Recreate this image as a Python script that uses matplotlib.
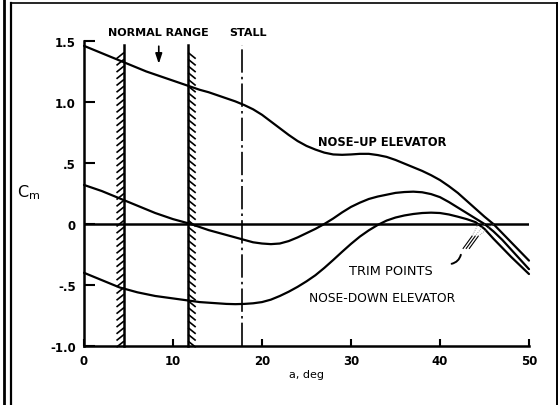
import numpy as np
import matplotlib
matplotlib.use("Agg")
import matplotlib.pyplot as plt
from matplotlib.collections import LineCollection
from matplotlib.lines import Line2D

# ---------------- data ----------------
alpha = list(range(0, 51))
cm_nose_up = [1.46, 1.43, 1.40, 1.37, 1.34, 1.31, 1.28, 1.25, 1.225, 1.20,
              1.175, 1.15, 1.125, 1.10, 1.08, 1.055, 1.03, 1.005, 0.975, 0.94,
              0.895, 0.84, 0.785, 0.73, 0.68, 0.64, 0.61, 0.585, 0.57, 0.567,
              0.57, 0.575, 0.575, 0.565, 0.55, 0.525, 0.495, 0.465, 0.435, 0.40,
              0.36, 0.31, 0.255, 0.19, 0.125, 0.06, 0.00, -0.075, -0.15, -0.225,
              -0.30]
cm_neutral = [0.32, 0.295, 0.27, 0.24, 0.21, 0.18, 0.15, 0.12, 0.09, 0.065,
              0.04, 0.02, 0.00, -0.025, -0.05, -0.07, -0.09, -0.11, -0.13, -0.15,
              -0.16, -0.165, -0.16, -0.14, -0.11, -0.075, -0.04, 0.00, 0.045, 0.095,
              0.14, 0.175, 0.205, 0.225, 0.24, 0.255, 0.262, 0.265, 0.26, 0.245,
              0.22, 0.18, 0.135, 0.09, 0.045, 0.00, -0.06, -0.13, -0.21, -0.29,
              -0.37]
cm_nose_down = [-0.40, -0.43, -0.46, -0.49, -0.52, -0.54, -0.56, -0.575, -0.59, -0.60,
                -0.61, -0.62, -0.63, -0.64, -0.645, -0.65, -0.655, -0.657, -0.655, -0.65,
                -0.64, -0.62, -0.59, -0.555, -0.515, -0.47, -0.42, -0.36, -0.295, -0.228,
                -0.163, -0.103, -0.052, -0.008, 0.028, 0.053, 0.07, 0.082, 0.09, 0.093,
                0.09, 0.078, 0.06, 0.04, 0.015, -0.04, -0.12, -0.195, -0.27, -0.34,
                -0.41]

normal_range = [4.5, 11.7]
stall_alpha = 17.7
trim_alpha = [44.3, 45.0, 46.0]

x_ticks = [0, 10, 20, 30, 40, 50]
x_labels = ["0", "10", "20", "30", "40", "50"]
y_ticks = [1.5, 1.0, 0.5, 0.0, -0.5, -1.0]
y_labels = ["1.5", "1.0", ".5", "0", "-.5", "-1.0"]

# ---------------- figure ----------------
fig = plt.figure(figsize=(5.59, 4.06), dpi=100)
fig.patch.set_facecolor("white")
ax = fig.add_axes([0.1503, 0.1453, 0.7960, 0.7513])
ax.set_xlim(0, 50)
ax.set_ylim(-1.0, 1.5)
for s in ("top", "right"):
    ax.spines[s].set_visible(False)
for s in ("left", "bottom"):
    ax.spines[s].set_linewidth(1.8)
    ax.spines[s].set_color("black")

font = dict(family="DejaVu Sans", fontweight="bold")

ax.set_xticks(x_ticks)
ax.set_xticklabels(x_labels, **font)
ax.set_yticks(y_ticks)
ax.set_yticklabels(y_labels, **font)
ax.tick_params(axis="both", direction="in", width=1.5, labelsize=8.5, color="black")
ax.tick_params(axis="y", length=8, pad=6)
ax.tick_params(axis="x", length=5, pad=6)

lw = 1.6
for series in (cm_nose_up, cm_neutral, cm_nose_down):
    ax.plot(alpha, series, color="black", lw=lw, solid_joinstyle="round",
            solid_capstyle="round", clip_on=False)
ax.axhline(0, color="black", lw=1.8)

# hatched walls of the normal range
top_wall = 1.47
for xw, side in zip(normal_range, (-1, 1)):
    ax.plot([xw, xw], [-1.0, top_wall], color="black", lw=1.8, clip_on=False)
    ys = np.arange(-0.96, top_wall - 0.01, 0.055)
    segs = [[(xw, y), (xw + side * 0.85, y - 0.05)] for y in ys]
    ax.add_collection(LineCollection(segs, colors="black", linewidths=1.2, clip_on=False))

# stall line
ax.plot([stall_alpha, stall_alpha], [-1.0, 1.47], color="black", lw=1.2,
        dashes=(14, 2.5, 1.5, 2.5), clip_on=False)

# labels
ax.text(8.4, 1.575, "NORMAL RANGE", ha="center", va="center", fontsize=8, **font)
ax.text(18.4, 1.575, "STALL", ha="center", va="center", fontsize=8, **font)
ax.annotate("", xy=(8.4, 1.29), xytext=(8.4, 1.48),
            arrowprops=dict(arrowstyle="-|>,head_length=0.6,head_width=0.2", color="black", lw=1.2))

ax.text(26.3, 0.68, "NOSE\u2013UP ELEVATOR", ha="left", va="center", fontsize=8.3, **font)
ax.text(25.3, -0.60, "NOSE-DOWN ELEVATOR", ha="left", va="center", fontsize=8.8,
        family="DejaVu Sans")
ax.text(29.8, -0.38, "TRIM POINTS", ha="left", va="center", fontsize=9.3,
        family="DejaVu Sans")

# trim point leaders
ax.annotate("", xy=(42.4, -0.23), xytext=(41.0, -0.33),
            arrowprops=dict(arrowstyle="-", color="black", lw=1.4,
                            connectionstyle="arc3,rad=0.4"))
for i, xt in enumerate(trim_alpha):
    x0 = 42.6 + 0.35 * i
    ax.plot([x0, x0 + 1.0], [-0.20, -0.10], color="black", lw=0.8)
    ax.plot([x0 + 1.0, xt], [-0.10, 0.0], color="gray", lw=0.6, ls=(0, (1, 1.5)))

ax.set_xlabel("a, deg", fontsize=8, family="DejaVu Sans", labelpad=1)
fig.text(29 / 559, 1 - 193 / 406, r"$\mathregular{C_m}$", fontsize=11.5, ha="center", va="center",
         family="DejaVu Sans")

# scanned page frame
frame = dict(color="black", transform=fig.transFigure, clip_on=False)
fig.add_artist(Line2D([4 / 559, 4 / 559], [0, 1], lw=2.0, **frame))
fig.add_artist(Line2D([11 / 559, 11 / 559], [0, 1 - 4 / 406], lw=1.6, **frame))
fig.add_artist(Line2D([11 / 559, 557 / 559], [1 - 4 / 406, 1 - 4 / 406], lw=1.2, **frame))
fig.add_artist(Line2D([557 / 559, 557 / 559], [0, 1 - 4 / 406], lw=1.4, **frame))

fig.savefig("out.png", dpi=100, facecolor="white")
